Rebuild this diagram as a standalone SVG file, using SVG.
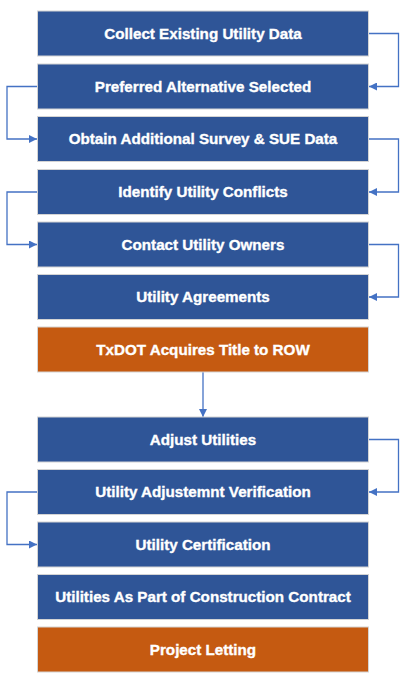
<svg xmlns="http://www.w3.org/2000/svg" width="406" height="676" viewBox="0 0 406 676">
<style>
.b{fill:#2F5597;stroke:#D4D4D4;stroke-width:1}
.o{fill:#C55A11;stroke:#D4D4D4;stroke-width:1}
.t{font-family:"Liberation Sans Narrow","Liberation Sans",Arial,sans-serif;font-weight:bold;font-size:15.2px;fill:#FFFFFF;stroke:#FFFFFF;stroke-width:0.35;text-anchor:middle;dominant-baseline:central}
.c{fill:none;stroke:#4472C4;stroke-width:1.3}
</style>
<defs>
<marker id="ah" viewBox="0 0 10 10" refX="10" refY="5" markerWidth="10" markerHeight="8" markerUnits="userSpaceOnUse" orient="auto">
<path d="M0,0 L10,5 L0,10 z" fill="#4472C4"/>
</marker>
</defs>
<rect width="406" height="676" fill="#FFFFFF"/>
<g id="connectors">
<path class="c" d="M368,33.5 H398.5 V86.5 H369" marker-end="url(#ah)"/>
<path class="c" d="M37,86.5 H7 V139 H37" marker-end="url(#ah)"/>
<path class="c" d="M368,139 H398.5 V192 H369" marker-end="url(#ah)"/>
<path class="c" d="M37,192 H7 V244.5 H37" marker-end="url(#ah)"/>
<path class="c" d="M368,244.5 H398.5 V297 H369" marker-end="url(#ah)"/>
<path class="c" d="M203,372 V417" marker-end="url(#ah)"/>
<path class="c" d="M368,439.5 H398.5 V492 H369" marker-end="url(#ah)"/>
<path class="c" d="M37,492 H7 V544.5 H37" marker-end="url(#ah)"/>
</g>
<g id="n1"><rect class="b" x="37.5" y="11" width="331" height="45"/><text class="t" x="203" y="33">Collect Existing Utility Data</text></g>
<g id="n2"><rect class="b" x="37.5" y="64" width="331" height="45"/><text class="t" x="203" y="86">Preferred Alternative Selected</text></g>
<g id="n3"><rect class="b" x="37.5" y="116.5" width="331" height="45"/><text class="t" x="203" y="138.5">Obtain Additional Survey &amp; SUE Data</text></g>
<g id="n4"><rect class="b" x="37.5" y="169.5" width="331" height="45"/><text class="t" x="203" y="191.5">Identify Utility Conflicts</text></g>
<g id="n5"><rect class="b" x="37.5" y="222" width="331" height="45"/><text class="t" x="203" y="244">Contact Utility Owners</text></g>
<g id="n6"><rect class="b" x="37.5" y="274.5" width="331" height="45"/><text class="t" x="203" y="296.5">Utility Agreements</text></g>
<g id="n7"><rect class="o" x="37.5" y="327" width="331" height="45"/><text class="t" x="203" y="349">TxDOT Acquires Title to ROW</text></g>
<g id="n8"><rect class="b" x="37.5" y="417" width="331" height="45"/><text class="t" x="203" y="439">Adjust Utilities</text></g>
<g id="n9"><rect class="b" x="37.5" y="469.5" width="331" height="45"/><text class="t" x="203" y="491.5">Utility Adjustemnt Verification</text></g>
<g id="n10"><rect class="b" x="37.5" y="522" width="331" height="45"/><text class="t" x="203" y="544">Utility Certification</text></g>
<g id="n11"><rect class="b" x="37.5" y="574.5" width="331" height="45"/><text class="t" x="203" y="596.5">Utilities As Part of Construction Contract</text></g>
<g id="n12"><rect class="o" x="37.5" y="627" width="331" height="45"/><text class="t" x="203" y="649">Project Letting</text></g>
</svg>
